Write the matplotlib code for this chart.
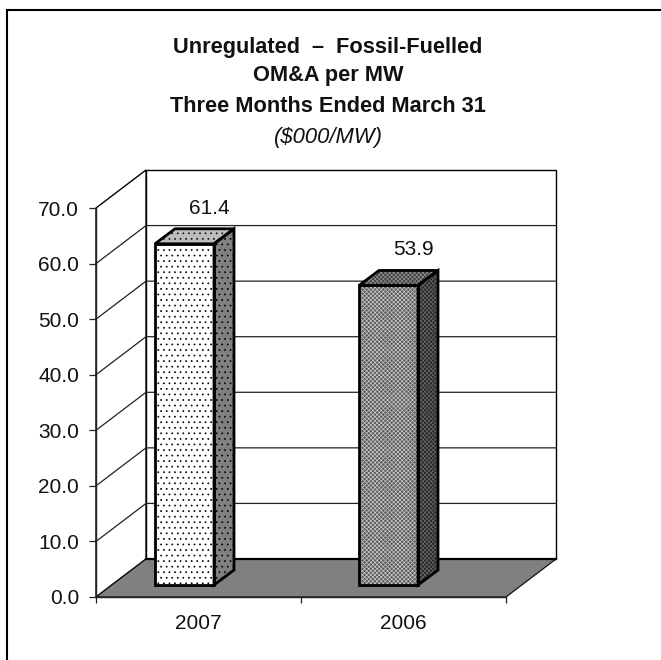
import matplotlib
matplotlib.use("Agg")
import matplotlib.pyplot as plt
from matplotlib.lines import Line2D
from matplotlib.patches import Polygon

plt.rcParams['font.family'] = ['Liberation Sans', 'DejaVu Sans']
plt.rcParams['hatch.linewidth'] = 0.5

categories = ['2007', '2006']
values = [61.4, 53.9]
value_labels = ['61.4', '53.9']
y_ticks = [0, 10, 20, 30, 40, 50, 60, 70]
title_lines = ['Unregulated  –  Fossil-Fuelled', 'OM&A per MW', 'Three Months Ended March 31']
subtitle = '($000/MW)'

W, H = 661, 660
fig = plt.figure(figsize=(W/100, H/100), dpi=100)
fig.patch.set_facecolor('white')
# the outer frame shows only on its top and left sides
fig.add_artist(Line2D([7/W, 7/W, 1], [0, 1-10/H, 1-10/H], transform=fig.transFigure,
                      color='black', lw=1.5, solid_joinstyle='miter', zorder=-1))

# front plane of the 3D box in pixels
L, R, T, B = 96, 506, 208, 597
ax = fig.add_axes([L/W, 1-B/H, (R-L)/W, (B-T)/H])
ax.set_xlim(0, 2)
ax.set_ylim(0, 70)
ax.patch.set_visible(False)
for s in ['top', 'right']:
    ax.spines[s].set_visible(False)
for s in ['left', 'bottom']:
    ax.spines[s].set_linewidth(1.0)
    ax.spines[s].set_color('#222222')
    ax.spines[s].set_zorder(2.5)

# depth offset in data units
px = 2/(R-L); py = 70/(B-T)
DX, DY = 50*px, 38*py
dx, dy = 20*px, 15*py   # bar depth
by = 12*py              # bar offset from front plane
BW = 59*px
bar_left = [(155-L)*px, (359-L)*px]

def poly(pts, **kw):
    p = Polygon(pts, closed=True, clip_on=False, **kw)
    ax.add_patch(p)
    return p

# back wall, side wall and floor
poly([(DX, DY), (2+DX, DY), (2+DX, 70+DY), (DX, 70+DY)], fc='white', ec='black', lw=1.0, zorder=1)
poly([(0, 0), (DX, DY), (DX, 70+DY), (0, 70)], fc='white', ec='black', lw=1.0, zorder=1)
poly([(0, 0), (2, 0), (2+DX, DY), (DX, DY)], fc='#808080', ec='#111111', lw=0.9, zorder=2)
ax.plot([DX, 2+DX], [DY, DY], color='black', lw=1.6, zorder=2.1, clip_on=False)
for v in y_ticks[1:-1]:
    ax.plot([0, DX, 2+DX], [v, v+DY, v+DY], color='#222222', lw=0.9, zorder=1.5, clip_on=False)

styles = [
    dict(front=('white', '#000000', '...'), top=('#bdbdbd', '#111111', '...'), side=('#808080', '#000000', '...')),
    dict(front=('#5a5a5a', '#c8c8c8', 'xxxxxxxx'), top=('#404040', '#909090', 'xxxxxxxx'), side=('#262626', '#686868', 'xxxxxxxx')),
]
for i, (v, st) in enumerate(zip(values, styles)):
    x0 = bar_left[i]
    x1 = x0 + BW
    y0 = by
    y1 = by + v
    for key, pts in [
        ('side', [(x1, y0), (x1+dx, y0+dy), (x1+dx, y1+dy), (x1, y1)]),
        ('top', [(x0, y1), (x1, y1), (x1+dx, y1+dy), (x0+dx, y1+dy)]),
        ('front', [(x0, y0), (x1, y0), (x1, y1), (x0, y1)]),
    ]:
        fc, hc, h = st[key]
        poly(pts, fc=fc, ec='none', zorder=3)
        poly(pts, fc='none', ec=hc, lw=0, hatch=h, zorder=3.1)
        poly(pts, fc='none', ec='black', lw=2.0, joinstyle='miter', zorder=3.2)
    ax.text(x0 + 54.5*px, y1 + dy + 20.5*py, value_labels[i], ha='center', va='center',
            fontsize=15, color='#111111', zorder=5)

ax.set_yticks(y_ticks)
ax.set_yticklabels([f'{t:.1f}' for t in y_ticks], fontsize=15, color='#111111')
ax.set_xticks([0, 1, 2])
ax.set_xticklabels([])
ax.set_xticks([0.5, 1.5], minor=True)
ax.set_xticklabels(categories, minor=True, fontsize=15, color='#111111')
ax.tick_params(axis='y', length=5, width=0.9, pad=7.2, color='#222222')
ax.tick_params(axis='x', which='major', length=4.5, width=0.9, color='#222222', direction='out')
ax.tick_params(axis='x', which='minor', length=0, pad=12)

cx = 328/W
for yy, t in zip([47, 76, 106], title_lines):
    fig.text(cx, 1-yy/H, t, ha='center', va='center', fontsize=15.7, fontweight='bold', color='#111111')
fig.text(cx, 1-137/H, subtitle, ha='center', va='center', fontsize=15.8, style='italic', color='#111111')

fig.savefig('out.png', dpi=100)
